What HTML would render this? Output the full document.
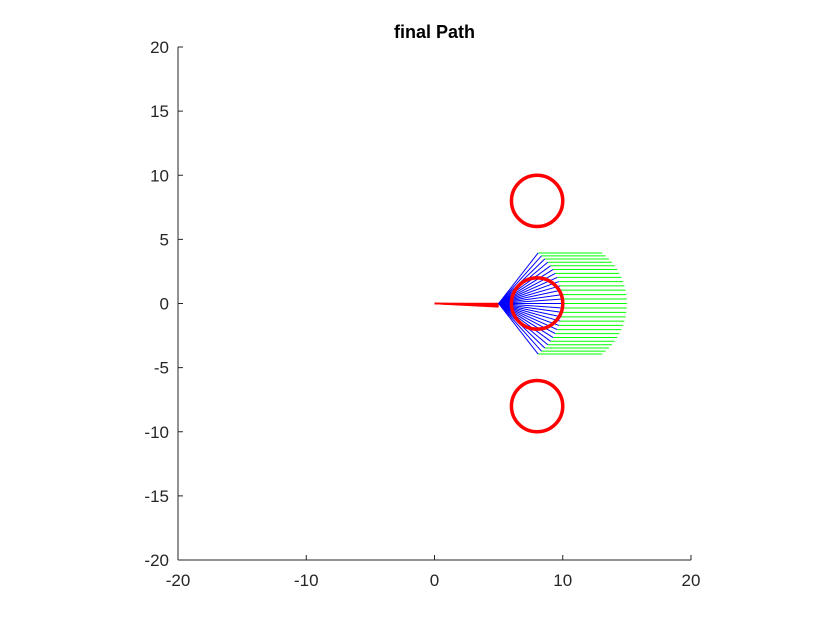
<!DOCTYPE html>
<html><head><meta charset="utf-8"><style>
body{margin:0;background:#fff;}
svg{display:block;font-family:"Liberation Sans",Arial,sans-serif;}
</style></head><body>
<svg id="chart" width="840" height="630">
<rect width="840" height="630" fill="#fff"/>
<text x="434.5" y="38" text-anchor="middle" font-size="18" font-weight="bold">final Path</text>
<g id="plot"></g>
<g id="axes"></g>
</svg>
<script>
const xTicks=[-20,-10,0,10,20];
const yTicks=[20,15,10,5,0,-5,-10,-15,-20];
const fanAngles=[52,48,44,40,36,32,28,24,20,16,12,8,4,0,-4,-8,-12,-16,-20,-24,-28,-32,-36,-40,-44,-48,-52];
const redAngles=[0,-0.5,-1,-1.5,-2,-2.5,-3];
const link1=5, link2=5, link3=5;
const circleX=[8,8,8], circleY=[8,0,-8], circleR=[2,2,2];
const ns="http://www.w3.org/2000/svg";
const x0=178,x1=691,y0=560,y1=47;
function sx(v){return x0+(v+20)/40*(x1-x0);}
function sy(v){return y0-(v+20)/40*(y0-y1);}
const plot=document.getElementById('plot'), axes=document.getElementById('axes');
function mk(tag,attrs,parent){const e=document.createElementNS(ns,tag);for(const k in attrs)e.setAttribute(k,attrs[k]);parent.appendChild(e);return e;}
redAngles.forEach(a=>{const r=a*Math.PI/180;
 const l=mk('line',{x1:sx(0),y1:sy(0),x2:sx(link1*Math.cos(r)),y2:sy(link1*Math.sin(r)),stroke:'#f00','stroke-width':1.5},plot);
 
 });
fanAngles.forEach(a=>{const r=a*Math.PI/180;
 const bx=link1+link2*Math.cos(r), by=link2*Math.sin(r);
 const g=mk('line',{x1:sx(bx),y1:sy(by),x2:sx(bx+link3),y2:sy(by),stroke:'#0f0','stroke-width':1},plot);
 
 
 const b=mk('line',{x1:sx(link1),y1:sy(0),x2:sx(bx),y2:sy(by),stroke:'#00f','stroke-width':1},plot);
 
 });
circleX.forEach((cx,i)=>{
 const c=mk('circle',{cx:sx(cx),cy:sy(circleY[i]),r:circleR[i]*(x1-x0)/40,fill:'none',stroke:'#f00','stroke-width':3.5},plot);
 
 });
const xa=mk('line',{x1:x0,y1:y0,x2:x1,y2:y0,stroke:'#262626','stroke-width':1},axes);


const ya=mk('line',{x1:x0,y1:y0,x2:x0,y2:y1,stroke:'#262626','stroke-width':1},axes);


xTicks.forEach(t=>{const x=sx(t);
 mk('line',{x1:x,y1:y0,x2:x,y2:y0-5,stroke:'#262626'},axes);
 const tx=mk('text',{x:x,y:y0+26,'text-anchor':'middle','font-size':17,fill:'#262626'},axes);tx.textContent=t;
 
 });
yTicks.forEach(t=>{const y=sy(t);
 mk('line',{x1:x0,y1:y,x2:x0+5,y2:y,stroke:'#262626'},axes);
 const tx=mk('text',{x:x0-9,y:y+6,'text-anchor':'end','font-size':17,fill:'#262626'},axes);tx.textContent=t;
 
 });
</script>
</body></html>
